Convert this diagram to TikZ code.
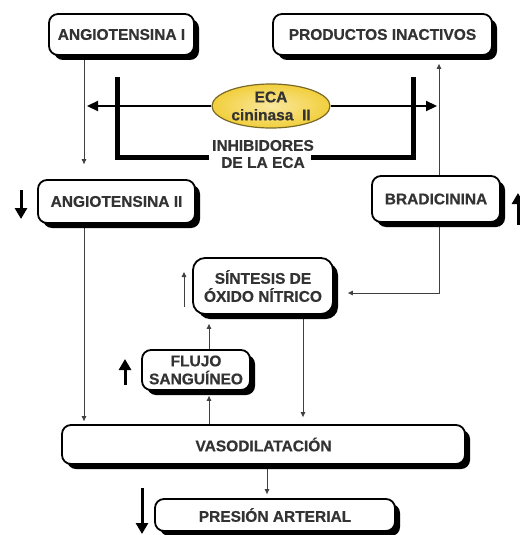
\documentclass[tikz,border=0pt]{standalone}
\usepackage{fontspec}
\setmainfont{Liberation Sans}
\newfontfamily\boxfont[FakeBold=0.6]{Liberation Sans Bold}
\usetikzlibrary{arrows.meta,shadows,backgrounds,calc,shapes.geometric}
\definecolor{txt}{HTML}{333333}
\definecolor{ecafill}{HTML}{F2CF3C}
\definecolor{ecaedge}{HTML}{7A6A2A}
\tikzset{
  box/.style={draw=black, line width=1.8pt, rounded corners=9pt, fill=white,
    text=txt, font=\boxfont\fontsize{15.5}{18}\selectfont, align=center,
    inner sep=0pt, drop shadow={shadow xshift=5pt, shadow yshift=-5pt, fill=black, opacity=1}},
  thinarr/.style={draw=black!75, line width=0.9pt, -{Triangle[length=5pt,width=4.5pt]}},
  thickarr/.style={draw=black, line width=3pt, -{Triangle[length=11pt,width=12pt]}},
  ecaarr/.style={draw=black, line width=2.2pt, -{Triangle[length=11pt,width=10pt]}},
  bracket/.style={draw=black, line width=5pt},
  lbl/.style={text=txt, font=\boxfont\fontsize{15.5}{17}\selectfont, align=center, inner sep=0pt}
}
\begin{document}
\begin{tikzpicture}[x=1pt,y=-1pt]
\useasboundingbox (0,0) rectangle (519,535);
% nodes
\node[box, minimum width=145pt, minimum height=41pt] (angI) at (121.5,34.5) {ANGIOTENSINA I};
\node[box, minimum width=219pt, minimum height=41pt] (prod) at (382.5,34.5) {PRODUCTOS INACTIVOS};
\node[box, minimum width=157pt, minimum height=43pt] (angII) at (116.5,201.5) {ANGIOTENSINA II};
\node[box, minimum width=128pt, minimum height=46pt] (brad) at (436,199) {BRADICININA};
\node[box, minimum width=140pt, minimum height=56pt, rounded corners=12pt] (sint) at (263,286) {SÍNTESIS DE\\ÓXIDO NÍTRICO};
\node[box, minimum width=108pt, minimum height=40pt] (flujo) at (196,370) {FLUJO\\SANGUÍNEO};
\node[box, minimum width=403pt, minimum height=39pt] (vaso) at (263.5,444.5) {VASODILATACIÓN};
\node[box, minimum width=240pt, minimum height=32pt] (pres) at (275,515) {PRESIÓN ARTERIAL};
\node[ellipse, draw=ecaedge, line width=1.2pt, inner color=ecafill!50!white, outer color=ecafill,
      minimum width=118pt, minimum height=44pt, inner sep=0pt, text=txt,
      font=\boxfont\fontsize{15.5}{18}\selectfont, align=center] (eca) at (271,106) {ECA\\cininasa\ \ II};
\node[lbl] (inh) at (263,154) {INHIBIDORES\\DE LA ECA};
% x positions
\coordinate (xL) at (84,0);
\coordinate (xR) at (439,0);
\coordinate (xF) at (209,0);
\coordinate (xS) at (303,0);
\coordinate (xP) at (267,0);
\coordinate (tipL) at (87,106);
\coordinate (tipR) at (437,106);
% connectors
\begin{scope}[on background layer]
\draw[thinarr, shorten >=15pt] (angI.south -| xL) -- (angII.north -| xL);
\draw[thinarr, shorten >=8pt] (brad.north -| xR) -- (prod.south -| xR);
\draw[thinarr, shorten >=3pt] (angII.south -| xL) -- (vaso.north -| xL);
\draw[thinarr] (brad.south -| xR) |- ($(sint.east)+(14,7)$);
\draw[thinarr, shorten >=7pt] (sint.south -| xS) -- (vaso.north -| xS);
\draw[thinarr, shorten >=9pt] (flujo.north -| xF) -- (sint.south -| xF);
\draw[thinarr, shorten >=5pt] (vaso.north -| xF) -- (flujo.south -| xF);
\draw[thinarr, shorten >=4pt] (vaso.south -| xP) -- (pres.north -| xP);
\end{scope}
\draw[ecaarr] (eca.west) -- (tipL);
\draw[ecaarr] (eca.east) -- (tipR);
% bracket
\draw[bracket] (117,77) -- (117,157) -- (209,157);
\draw[bracket] (311,157) -- (413,157) -- (413,77);
% free arrows
\draw[thinarr] (184,307) -- (184,272);
\draw[thickarr] (21,190) -- (21,219);
\draw[thickarr] (125,385) -- (125,359);
\draw[thickarr] (142,488) -- (142,534);
\draw[thickarr] (518,225) -- (518,193);
\end{tikzpicture}
\end{document}
